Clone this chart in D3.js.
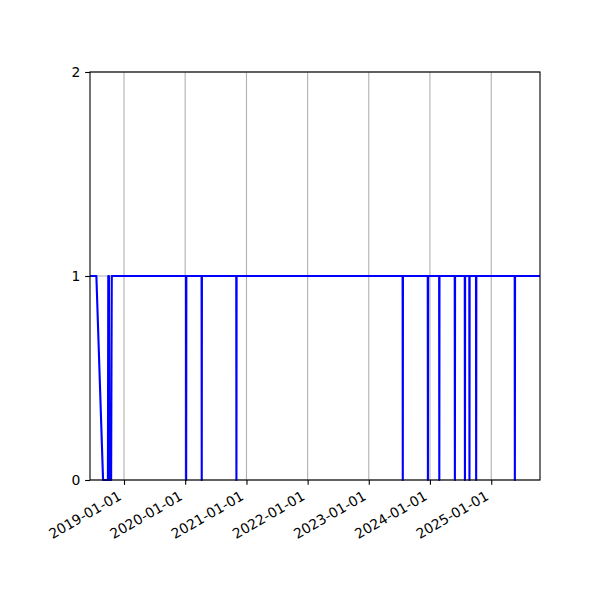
<!DOCTYPE html>
<html>
<head>
<meta charset="utf-8">
<script src="https://cdn.jsdelivr.net/npm/d3@7"></script>
<style>
  body { margin: 0; background: #fff; }
  svg { display: block; }
  text { font-family: "DejaVu Sans", sans-serif; font-size: 13.9px; fill: #000; }
</style>
</head>
<body>
<svg id="chart" width="600" height="600"></svg>
<script>
// points of the series
var dates = [
  '2018-06-12', '2018-07-20', '2018-08-29', '2018-09-27', '2018-09-29',
  '2018-10-03', '2018-10-06', '2018-10-16', '2018-10-20',
  '2020-01-06', '2020-01-07', '2020-01-08',
  '2020-04-08', '2020-04-09', '2020-04-10',
  '2020-11-01', '2020-11-02', '2020-11-03',
  '2023-07-22', '2023-07-23', '2023-07-24',
  '2023-12-19', '2023-12-20', '2023-12-21',
  '2024-02-25', '2024-02-26', '2024-02-27',
  '2024-05-28', '2024-05-29', '2024-05-30',
  '2024-07-27', '2024-07-28', '2024-07-29',
  '2024-08-23', '2024-08-24', '2024-08-25',
  '2024-10-02', '2024-10-03', '2024-10-04',
  '2025-05-21', '2025-05-22', '2025-05-23',
  '2025-10-19'
]
var values = [
  1, 1, 0, 0, 1,
  1, 0, 0, 1,
  1, 0, 1,
  1, 0, 1,
  1, 0, 1,
  1, 0, 1,
  1, 0, 1,
  1, 0, 1,
  1, 0, 1,
  1, 0, 1,
  1, 0, 1,
  1, 0, 1,
  1, 0, 1,
  1
]
var yTicks = [0, 1, 2]
var xTickYears = ['2019-01-01', '2020-01-01', '2021-01-01', '2022-01-01', '2023-01-01', '2024-01-01', '2025-01-01']

var parse = d3.timeParse('%Y-%m-%d')
var fmt = d3.timeFormat('%Y-%m-%d')

var data = dates.map(function (d, i) { return [parse(d), values[i]] })
var xTicks = xTickYears.map(parse)

var mLeft = 90, mRight = 540, mTop = 72, mBottom = 480
var tickLen = 4.86, pad = 4.86

var svg = d3.select('#chart')

var x = d3.scaleTime()
          .domain(d3.extent(data, d => d[0]))
          .range([mLeft, mRight])
var y = d3.scaleLinear()
          .domain([0, 2])
          .range([mBottom, mTop])

// grid
var grid = svg.append('g')
              .attr('stroke', '#b0b0b0')
              .attr('stroke-width', 1.1)
grid.selectAll('line.vx')
    .data(xTicks)
    .enter()
    .append('line')
    .attr('class', 'vx')
    .attr('x1', d => x(d))
    .attr('x2', d => x(d))
    .attr('y1', mTop)
    .attr('y2', mBottom)
grid.selectAll('line.hy')
    .data(yTicks)
    .enter()
    .append('line')
    .attr('class', 'hy')
    .attr('x1', mLeft)
    .attr('x2', mRight)
    .attr('y1', d => y(d))
    .attr('y2', d => y(d))

// series
var line = d3.line()
             .x(d => x(d[0]))
             .y(d => y(d[1]))

svg.append('path')
   .datum(data)
   .attr('d', line)
   .attr('fill', 'none')
   .attr('stroke', '#0000ff')
   .attr('stroke-width', 2.1)
   .attr('stroke-linejoin', 'round')

// axes
svg.append('g')
   .attr('transform', 'translate(0,' + mBottom + ')')
   .call(d3.axisBottom(x).tickValues(xTicks).tickSize(tickLen).tickFormat(''))
svg.append('g')
   .attr('transform', 'translate(' + mLeft + ',0)')
   .call(d3.axisLeft(y).tickValues(yTicks).tickSize(tickLen).tickFormat(''))

svg.selectAll('.domain').remove()
svg.selectAll('.tick line')
   .attr('stroke', '#000')
   .attr('stroke-width', 1.1)

// frame
svg.append('rect')
   .attr('x', mLeft)
   .attr('y', mTop)
   .attr('width', mRight - mLeft)
   .attr('height', mBottom - mTop)
   .attr('fill', 'none')
   .attr('stroke', '#000')
   .attr('stroke-width', 1.1)

// rotated date labels, right edge of the box on the tick
svg.append('g')
   .selectAll('text')
   .data(xTicks)
   .enter()
   .append('text')
   .attr('text-anchor', 'end')
   .attr('transform', d => 'translate(' + (x(d) - 1.7) + ',' + (mBottom + tickLen + pad + 9.2) + ') rotate(-30)')
   .text(d => fmt(d))

svg.append('g')
   .selectAll('text')
   .data(yTicks)
   .enter()
   .append('text')
   .attr('text-anchor', 'end')
   .attr('x', mLeft - tickLen - pad)
   .attr('y', d => y(d))
   .attr('dy', '0.36em')
   .text(d => d)
</script>
</body>
</html>
